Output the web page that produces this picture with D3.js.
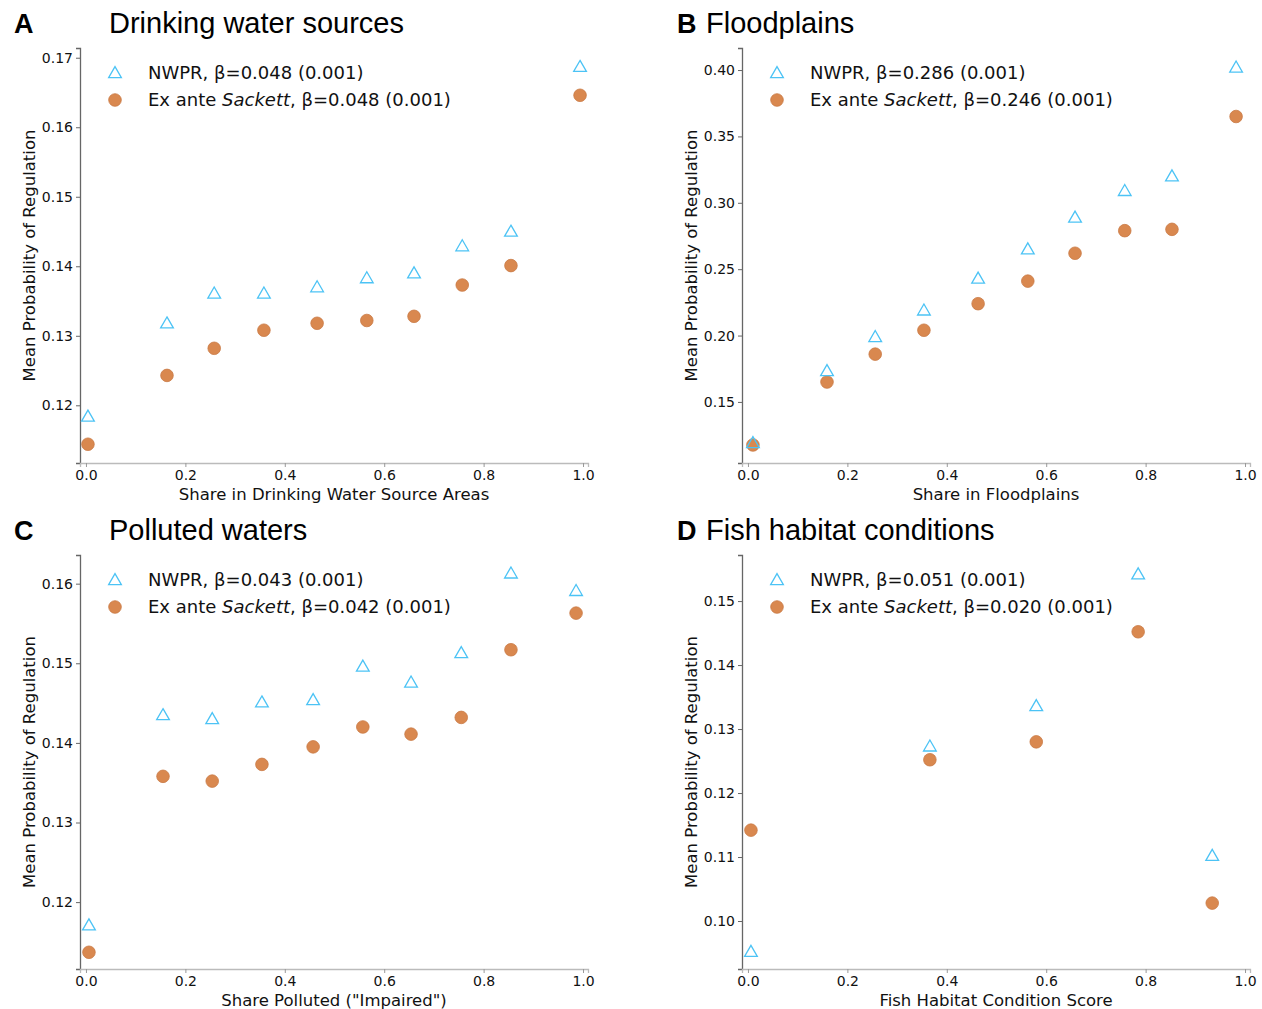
<!DOCTYPE html>
<html>
<head>
<meta charset="utf-8">
<script src="https://cdn.jsdelivr.net/npm/d3@7"></script>
<style>
body{margin:0;background:#fff;}
svg{display:block;}
</style>
</head>
<body>
<svg id="chart" width="1262" height="1009"></svg>
<script>
// ---- Data ----
const panelLetters = ["A","B","C","D"];
const panelTitles = ["Drinking water sources","Floodplains","Polluted waters","Fish habitat conditions"];
const xLabels = ["Share in Drinking Water Source Areas","Share in Floodplains","Share Polluted (\"Impaired\")","Fish Habitat Condition Score"];
const nwprBeta = ["0.048 (0.001)","0.286 (0.001)","0.043 (0.001)","0.051 (0.001)"];
const sackettBeta = ["0.048 (0.001)","0.246 (0.001)","0.042 (0.001)","0.020 (0.001)"];

const xA = [0.004,0.163,0.258,0.358,0.465,0.565,0.660,0.757,0.855,0.994];
const nwprA = [0.1184,0.1318,0.1361,0.1361,0.1370,0.1383,0.1390,0.1429,0.1450,0.1687];
const sackA = [0.1144,0.1243,0.1282,0.1308,0.1318,0.1322,0.1328,0.1373,0.1401,0.1646];

const xB = [0.010,0.159,0.256,0.354,0.463,0.563,0.658,0.758,0.853,0.982];
const nwprB = [0.1191,0.1733,0.1990,0.2190,0.2430,0.2650,0.2890,0.3090,0.3200,0.4020];
const sackB = [0.1176,0.1650,0.1860,0.2040,0.2240,0.2410,0.2620,0.2790,0.2800,0.3650];

const xC = [0.006,0.155,0.254,0.354,0.457,0.557,0.654,0.755,0.855,0.986];
const nwprC = [0.1171,0.1435,0.1430,0.1451,0.1454,0.1496,0.1476,0.1513,0.1613,0.1591];
const sackC = [0.1137,0.1358,0.1352,0.1373,0.1395,0.1420,0.1411,0.1432,0.1517,0.1563];

const xD = [0.006,0.366,0.580,0.785,0.934];
const nwprD = [0.0952,0.1273,0.1336,0.1542,0.1102];
const sackD = [0.1142,0.1252,0.1280,0.1452,0.1028];

const xTicks = [0,0.2,0.4,0.6,0.8,1.0];
const yTicksA = [0.12,0.13,0.14,0.15,0.16,0.17];
const yTicksB = [0.15,0.20,0.25,0.30,0.35,0.40];
const yTicksC = [0.12,0.13,0.14,0.15,0.16];
const yTicksD = [0.10,0.11,0.12,0.13,0.14,0.15];

const yDomains = [[0.1117,0.1714],[0.1040,0.4166],[0.1116,0.1636],[0.0925,0.1572]];

const panels = [
  {x:xA, n:nwprA, s:sackA, yt:yTicksA},
  {x:xB, n:nwprB, s:sackB, yt:yTicksB},
  {x:xC, n:nwprC, s:sackC, yt:yTicksC},
  {x:xD, n:nwprD, s:sackD, yt:yTicksD}
];

// ---- Layout ----
const svg = d3.select("#chart");
const boxes = [
  {left:80, right:588, top:48, bottom:463, letterX:14, titleX:109, titleY:33},
  {left:742, right:1250, top:48, bottom:463, letterX:677, titleX:706, titleY:33},
  {left:80, right:588, top:555, bottom:969, letterX:14, titleX:109, titleY:540},
  {left:742, right:1250, top:555, bottom:969, letterX:677, titleX:706, titleY:540}
];
const blue = "#4cc3f5";
const orange = "#d9884f";
const tickFont = "'DejaVu Sans', sans-serif";

panels.forEach((p,i)=>{
  const b = boxes[i];
  const x = d3.scaleLinear().domain([-0.012,1.01]).range([b.left,b.right]);
  const y = d3.scaleLinear().domain(yDomains[i]).range([b.bottom,b.top]);
  const g = svg.append("g");

  // titles
  g.append("text").attr("x",b.letterX).attr("y",b.titleY)
    .attr("font-family","'Liberation Sans', Arial, sans-serif").attr("font-weight","bold")
    .attr("font-size",27).attr("fill","#000").text(panelLetters[i]);
  g.append("text").attr("x",b.titleX).attr("y",b.titleY)
    .attr("font-family","'Liberation Sans', Arial, sans-serif")
    .attr("font-size",29).attr("fill","#000").text(panelTitles[i]);

  // axes
  const yAxis = d3.axisLeft(y).tickValues(p.yt).tickSize(4).tickPadding(3)
    .tickFormat(d3.format(".2f"));
  const ya = g.append("g").attr("transform",`translate(${b.left},0)`).call(yAxis);
  ya.select(".domain").attr("stroke","#666").attr("stroke-width",1.3);
  ya.selectAll(".tick line").attr("stroke","#666");
  ya.selectAll(".tick text").attr("font-family",tickFont).attr("font-size",14).attr("fill","#111");

  const xAxis = d3.axisBottom(x).tickValues(xTicks).tickSize(4).tickPadding(3)
    .tickFormat(d3.format(".1f"));
  const xa = g.append("g").attr("transform",`translate(0,${b.bottom})`).call(xAxis);
  xa.select(".domain").attr("stroke","#bbb").attr("stroke-width",1.3);
  xa.selectAll(".tick line").attr("stroke","#999");
  xa.selectAll(".tick text").attr("font-family",tickFont).attr("font-size",14).attr("fill","#111");

  // axis labels
  g.append("text").attr("x",(b.left+b.right)/2).attr("y",b.bottom+37)
    .attr("text-anchor","middle").attr("font-family",tickFont).attr("font-size",16.5)
    .attr("fill","#111").text(xLabels[i]);
  g.append("text").attr("transform",`translate(${b.left-45},${(b.top+b.bottom)/2}) rotate(-90)`)
    .attr("text-anchor","middle").attr("font-family",tickFont).attr("font-size",16.5)
    .attr("fill","#111").text("Mean Probability of Regulation");

  // points
  const tri = d3.symbol().type(d3.symbolTriangle).size(70);
  g.selectAll("circle.s").data(p.x).join("circle")
    .attr("cx",(d)=>x(d)).attr("cy",(d,j)=>y(p.s[j])).attr("r",6.3)
    .attr("fill",orange).attr("stroke","#c97a45").attr("stroke-width",0.8);
  g.selectAll("path.n").data(p.x).join("path")
    .attr("transform",(d,j)=>`translate(${x(d)},${y(p.n[j])+1})`)
    .attr("d",tri).attr("fill","none").attr("stroke",blue).attr("stroke-width",1.3);

  // legend
  const lx = b.left+35, ly1 = b.top+25, ly2 = b.top+52;
  g.append("path").attr("transform",`translate(${lx},${ly1+1})`).attr("d",tri)
    .attr("fill","none").attr("stroke",blue).attr("stroke-width",1.3);
  g.append("circle").attr("cx",lx).attr("cy",ly2).attr("r",6.3)
    .attr("fill",orange).attr("stroke","#c97a45").attr("stroke-width",0.8);
  const t1 = g.append("text").attr("x",lx+33).attr("y",ly1+6)
    .attr("font-family",tickFont).attr("font-size",18).attr("fill","#111");
  t1.text("NWPR, β=" + nwprBeta[i]);
  const t2 = g.append("text").attr("x",lx+33).attr("y",ly2+6)
    .attr("font-family",tickFont).attr("font-size",18).attr("fill","#111");
  t2.append("tspan").text("Ex ante ");
  t2.append("tspan").attr("font-style","italic").text("Sackett");
  t2.append("tspan").text(", β=" + sackettBeta[i]);
});
</script>
</body>
</html>
